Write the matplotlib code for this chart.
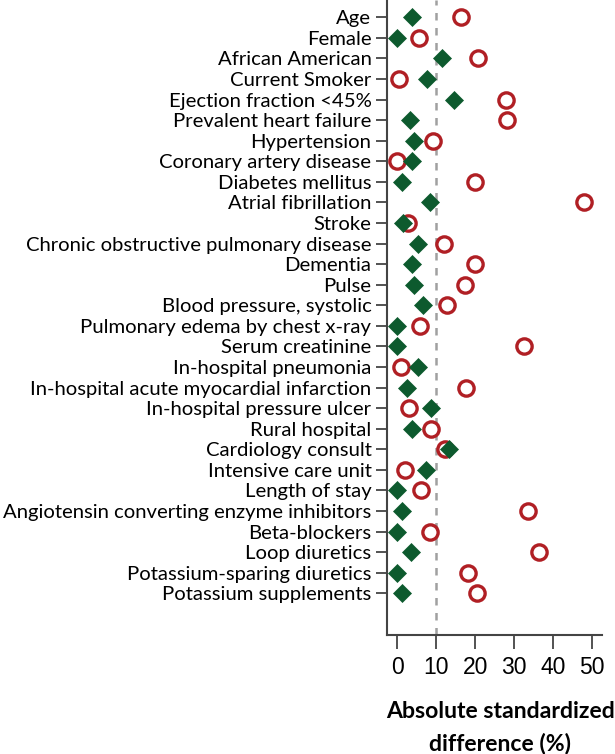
import numpy as np
import matplotlib
matplotlib.use("Agg")
import matplotlib.pyplot as plt

# covariates, top to bottom
labels = [
    "Age", "Female", "African American", "Current Smoker",
    "Ejection fraction <45%", "Prevalent heart failure", "Hypertension",
    "Coronary artery disease", "Diabetes mellitus", "Atrial fibrillation",
    "Stroke", "Chronic obstructive pulmonary disease", "Dementia", "Pulse",
    "Blood pressure, systolic", "Pulmonary edema by chest x-ray",
    "Serum creatinine", "In-hospital pneumonia",
    "In-hospital acute myocardial infarction", "In-hospital pressure ulcer",
    "Rural hospital", "Cardiology consult", "Intensive care unit",
    "Length of stay", "Angiotensin converting enzyme inhibitors",
    "Beta-blockers", "Loop diuretics", "Potassium-sparing diuretics",
    "Potassium supplements",
]

# absolute standardized difference (%), before matching (open circles)
before = [16.4, 5.6, 20.7, 0.5, 27.9, 28.1, 9.2, 0.0, 20.1, 48.0,
          2.7, 12.1, 19.9, 17.3, 12.8, 5.9, 32.6, 1.0, 17.7, 3.1,
          8.7, 12.2, 2.1, 6.0, 33.5, 8.4, 36.4, 18.2, 20.5]
# after matching (filled diamonds)
after = [3.7, 0.0, 11.5, 7.6, 14.7, 3.2, 4.2, 3.9, 1.3, 8.3,
         1.4, 5.2, 3.9, 4.4, 6.7, 0.0, 0.0, 5.2, 2.6, 8.7,
         3.9, 13.3, 7.3, 0.0, 1.3, 0.0, 3.5, 0.0, 1.3]

xticks = [0, 10, 20, 30, 40, 50]

RED = "#B01F24"
GREEN = "#0D5A2E"
AXCOL = "#444444"
FONT = "Lato"

W, H = 615, 754
fig = plt.figure(figsize=(W / 100, H / 100), dpi=100)
ax = fig.add_axes([386.7 / W, 1 - 635 / H, (601.7 - 386.7) / W, 635 / H])

# size the label font so the longest label matches the reference width
renderer = fig.canvas.get_renderer()
probe = fig.text(0, 0, "Chronic obstructive pulmonary disease", fontsize=10, family=FONT)
w = probe.get_window_extent(renderer).width
probe.remove()
lab_fs = 10 * 346 / w

probe = fig.text(0, 0, "Absolute standardized", fontsize=10, family=FONT, weight="bold")
w = probe.get_window_extent(renderer).width
probe.remove()
xl_fs = 10 * 230 / w

y = np.arange(len(labels))

ax.axvline(10, color="#A0A0A0", ls=(0, (3, 3)), lw=1.8, zorder=1)
ax.plot(before, y, ls="none", marker="o", ms=11, mfc="white", mec=RED, mew=2.4, zorder=3)
ax.plot(after, y, ls="none", marker="D", ms=9.2, mfc=GREEN, mec=GREEN, mew=0.5, zorder=4)

ax.set_xlim(-2.73, 52.56)
ax.set_ylim(30.03, -0.84)

ax.set_yticks(y)
ax.set_yticklabels(labels, family=FONT, fontsize=lab_fs)
ax.set_xticks(xticks)
ax.set_xticklabels([str(t) for t in xticks], family="Liberation Sans", fontsize=16.5)

for s in ["top", "right"]:
    ax.spines[s].set_visible(False)
for s in ["left", "bottom"]:
    ax.spines[s].set_color(AXCOL)
    ax.spines[s].set_linewidth(1.5)

ax.tick_params(axis="y", direction="out", length=8, width=1.3, color=AXCOL, pad=3)
ax.tick_params(axis="x", direction="out", length=10, width=1.3, color=AXCOL, pad=5)

fig.text(500 / W, 1 - 712 / H, "Absolute standardized", ha="center", va="center",
         family=FONT, weight="bold", fontsize=xl_fs)
fig.text(500 / W, 1 - 743 / H, "difference (%)", ha="center", va="center",
         family=FONT, weight="bold", fontsize=xl_fs)

fig.savefig("out.png", dpi=100)
